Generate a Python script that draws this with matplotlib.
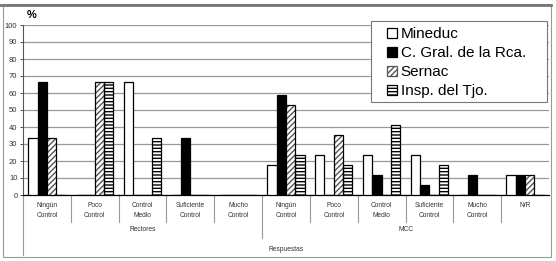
import matplotlib.pyplot as plt
import numpy as np
from matplotlib.patches import Rectangle, Patch
from matplotlib.lines import Line2D
import matplotlib.transforms as mtransforms

plt.rcParams['font.family'] = ['Liberation Sans', 'DejaVu Sans']

# categorias del eje x
categorias = ["Ningún\nControl", "Poco\nControl", "Control\nMedio", "Suficiente\nControl", "Mucho\nControl",
              "Ningún\nControl", "Poco\nControl", "Control\nMedio", "Suficiente\nControl", "Mucho\nControl", "N/R"]
grupos = ["Rectores", "MCC"]
series = ["Mineduc", "C. Gral. de la Rca.", "Sernac", "Insp. del Tjo."]

# valores (%) por serie
mineduc = [33.3, 0, 66.7, 0, 0, 17.6, 23.5, 23.5, 23.5, 0, 11.8]
contraloria = [66.7, 0, 0, 33.3, 0, 58.8, 0, 11.8, 5.9, 11.8, 11.8]
sernac = [33.3, 66.7, 0, 0, 0, 52.9, 35.3, 0, 0, 0, 11.8]
inspeccion = [0, 66.7, 33.3, 0, 0, 23.5, 17.6, 41.2, 17.6, 0, 0]

valores = [mineduc, contraloria, sernac, inspeccion]
rellenos = ['white', 'black', 'white', 'white']
tramas = [None, None, '//////', '-----']
colores_trama = [None, None, '#555555', 'black']

fig = plt.figure(figsize=(5.56, 2.61), dpi=100)
ax = fig.add_axes([23 / 556, 1 - 195 / 261, 526 / 556, 170 / 261])

x = np.arange(len(categorias)) + 0.5
ancho = 0.195
for i, vals in enumerate(valores):
    pos = x + (i - 1.5) * ancho
    if tramas[i]:
        ax.bar(pos, vals, ancho, color='white', edgecolor=colores_trama[i],
               hatch=tramas[i], linewidth=0, zorder=3)
        ax.bar(pos, vals, ancho, fill=False, edgecolor='black', linewidth=0.9, zorder=4)
    else:
        ax.bar(pos, vals, ancho, color=rellenos[i], edgecolor='black', linewidth=0.9, zorder=3)

ax.set_xlim(0, len(categorias))
ax.set_ylim(0, 100)
ax.set_yticks(range(0, 101, 10))
ax.tick_params(axis='y', labelsize=5.5, length=2, width=0.6, pad=2, colors='#333333')
ax.set_xticks([])
ax.grid(axis='y', color='#9a9a9a', linewidth=0.9, zorder=0)
for s in ['top', 'right']:
    ax.spines[s].set_visible(False)
ax.spines['left'].set_color('#555555')
ax.spines['left'].set_linewidth(0.8)
ax.spines['bottom'].set_color('black')
ax.spines['bottom'].set_linewidth(0.9)

# etiquetas en varios niveles
trans = mtransforms.blended_transform_factory(ax.transData, ax.transAxes)
for xi, cat in zip(x, categorias):
    ax.text(xi, -0.04, cat, transform=trans, ha='center', va='top', fontsize=4.8,
            color='#333333', linespacing=1.6)
for b in range(1, len(categorias)):
    largo = -0.255 if b == 5 else -0.16
    ax.plot([b, b], [0, largo], transform=trans, color='#999999', lw=0.8, clip_on=False)
ax.plot([0, 0], [0, -0.355], transform=trans, color='#999999', lw=0.8, clip_on=False)
ax.text(2.5, -0.205, grupos[0], transform=trans, ha='center', va='center', fontsize=4.8, color='#333333')
ax.text(8.0, -0.205, grupos[1], transform=trans, ha='center', va='center', fontsize=4.8, color='#333333')
ax.text(5.5, -0.32, "Respuestas", transform=trans, ha='center', va='center', fontsize=4.8, color='#333333')

fig.text(32 / 556, 1 - 15 / 261, "%", fontsize=8, fontweight='bold', ha='center', va='center')

# leyenda (marco dibujado aparte)
handles = [Patch(facecolor=rellenos[i], edgecolor=colores_trama[i] or 'black',
                 hatch=tramas[i], linewidth=0.9) for i in range(4)]
leg = fig.legend(handles, series, loc='upper left', bbox_to_anchor=(387 / 556, 1 - 27 / 261),
                 fontsize=11, frameon=False, borderaxespad=0, borderpad=0,
                 handlelength=0.65, handleheight=0.65, handletextpad=0.25,
                 labelspacing=0.33)
fig.patches.append(Rectangle((371 / 556, 1 - 102 / 261), 176 / 556, 81 / 261, transform=fig.transFigure,
                             facecolor='white', edgecolor='#777777', linewidth=0.8, zorder=5))
leg.set_zorder(6)

# marco exterior
fig.patches.append(Rectangle((3 / 556, 4 / 261), 548 / 556, 253 / 261, transform=fig.transFigure,
                             fill=False, edgecolor='#999999', linewidth=0.8))
fig.lines.append(Line2D([0, 551 / 556], [1 - 4.5 / 261, 1 - 4.5 / 261], transform=fig.transFigure,
                        color='#777777', linewidth=2))

fig.savefig('out.png', dpi=100)
